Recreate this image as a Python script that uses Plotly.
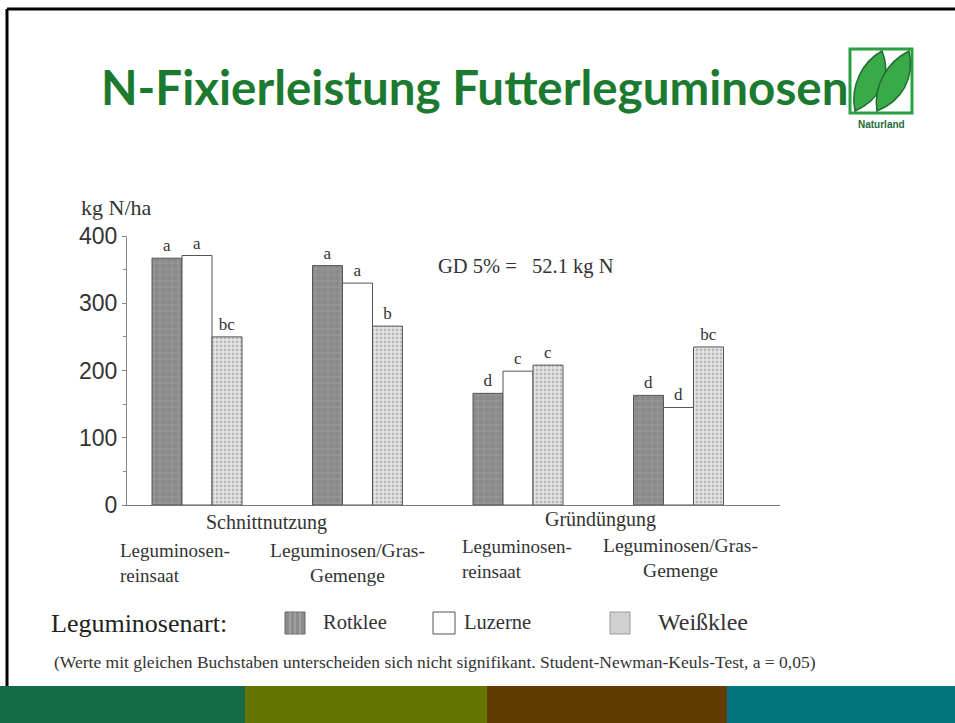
import plotly.graph_objects as go

W, H = 955, 723

# ---------------- data ----------------
groups = ["Schnittnutzung – Leguminosen-reinsaat", "Schnittnutzung – Leguminosen/Gras-Gemenge",
          "Gründüngung – Leguminosen-reinsaat", "Gründüngung – Leguminosen/Gras-Gemenge"]
series_names = ["Rotklee", "Luzerne", "Weißklee"]
rotklee = [367, 356, 166, 163]
luzerne = [371, 330, 199, 145]
weissklee = [250, 266, 208, 235]
rotklee_letters = ["a", "a", "d", "d"]
luzerne_letters = ["a", "a", "c", "d"]
weissklee_letters = ["bc", "b", "c", "bc"]
y_ticks = [0, 100, 200, 300, 400]

SERIF = "Liberation Serif"
SANS = "Liberation Sans"


def px(x):
    return x / W


def py(y):
    return 1 - y / H


def P(x, y):
    return f"{px(x):.5f},{py(y):.5f}"


xpos = list(range(len(groups)))

ROT = dict(color="#8e8e8e", line=dict(color="#555555", width=1),
           pattern=dict(shape="+", fgcolor="#c4c4c4", bgcolor="#8a8a8a", size=6, solidity=0.15))
LUZ = dict(color="white", line=dict(color="#555555", width=1))
WEI = dict(color="#dedede", line=dict(color="#555555", width=1),
           pattern=dict(shape=".", fgcolor="#8c8c8c", bgcolor="#e6e6e6", size=4, solidity=0.4))

fig = go.Figure()
common_text = dict(textposition="outside", cliponaxis=False, showlegend=False,
                   textfont=dict(family=SERIF, size=17, color="#333333"))
fig.add_bar(x=xpos, y=rotklee, name=series_names[0], text=rotklee_letters, marker=ROT, **common_text)
fig.add_bar(x=xpos, y=luzerne, name=series_names[1], text=luzerne_letters, marker=LUZ, **common_text)
fig.add_bar(x=xpos, y=weissklee, name=series_names[2], text=weissklee_letters, marker=WEI, **common_text)

x0, x1 = 127, 780
y0, y1 = 505, 236
centers_px = [197, 357.5, 518, 678.5]
step = centers_px[1] - centers_px[0]
xr = [(x0 - centers_px[0]) / step, (x1 - centers_px[0]) / step]

fig.update_layout(
    width=W, height=H,
    margin=dict(l=0, r=0, t=0, b=0, pad=0, autoexpand=False),
    paper_bgcolor="white", plot_bgcolor="white",
    barmode="group", bargap=1 - 3 * 30 / step, bargroupgap=0,
    font=dict(family=SERIF, color="#333333"),
    showlegend=False,
    xaxis=dict(domain=[px(x0), px(x1)], range=xr, showgrid=False, zeroline=False, automargin=False,
               showline=True, linecolor="#777777", linewidth=1,
               showticklabels=False, ticks=""),
    yaxis=dict(domain=[py(y0), py(y1)], range=[0, 400], showgrid=False, zeroline=False, automargin=False,
               showline=True, linecolor="#888888", linewidth=1,
               tickvals=y_ticks, ticks="outside", ticklen=4, tickcolor="#888888",
               tickfont=dict(family=SANS, size=23, color="#333333"),
               minor=dict(dtick=50, ticks="outside", ticklen=3, tickcolor="#888888")),
)

ann = []


def text(x, y, s, size, xanchor="center", align="center", family=SERIF, color="#333333", weight=None):
    f = dict(family=family, size=size, color=color)
    if weight:
        f["weight"] = weight
    ann.append(dict(x=px(x), y=py(y), xref="paper", yref="paper", text=s, showarrow=False,
                    xanchor=xanchor, yanchor="middle", align=align, borderpad=0, font=f))


# Title
text(474, 86, "N-Fixierleistung Futterleguminosen", 47.5, family="Lato", color="#1b7a30", weight="bold")

text(80, 208, "kg N/ha", 22, xanchor="left")
text(437, 266, "GD 5% =&nbsp;&nbsp;&nbsp;52.1 kg N", 20.5, xanchor="left")
text(266, 522, "Schnittnutzung", 20)
text(600, 519, "Gründüngung", 20)
text(119, 563, "Leguminosen-<br>reinsaat", 19, xanchor="left", align="left")
text(347, 563, "Leguminosen/Gras-<br>Gemenge", 19.5)
text(461, 559, "Leguminosen-<br>reinsaat", 19, xanchor="left", align="left")
text(680, 558, "Leguminosen/Gras-<br>Gemenge", 19.5)
text(435, 662, "(Werte mit gleichen Buchstaben unterscheiden sich nicht signifikant. "
     "Student-Newman-Keuls-Test, a = 0,05)", 17.5)
text(881, 124, "<b>Naturland</b>", 10, family=SANS, color="#1d6b3a")

# legend (drawn manually)
text(50, 623, "Leguminosenart:", 26, xanchor="left", color="#222222")
legend_items = [(322, series_names[0], 20.5), (463, series_names[1], 20.5), (657, series_names[2], 24)]
for tx, name, fs in legend_items:
    text(tx, 622, name, fs, xanchor="left")

fig.update_layout(annotations=ann)

shapes = []
# slide border
shapes.append(dict(type="line", xref="paper", yref="paper", x0=px(7), y0=py(9), x1=px(955), y1=py(9),
                   line=dict(color="black", width=3)))
shapes.append(dict(type="line", xref="paper", yref="paper", x0=px(7), y0=py(9), x1=px(7), y1=py(687),
                   line=dict(color="black", width=3)))
# bottom colour bands
bands = [(0, 245, "#136b48"), (245, 487, "#657600"), (487, 727, "#613c00"), (727, 955, "#007580")]
for a, b, c in bands:
    shapes.append(dict(type="rect", xref="paper", yref="paper", x0=px(a), x1=px(b),
                       y0=py(723), y1=py(686), fillcolor=c, line=dict(width=0)))
# legend swatches
sw_top, sw_bot = 612, 634
shapes.append(dict(type="rect", xref="paper", yref="paper", x0=px(285), x1=px(305), y0=py(sw_bot), y1=py(sw_top),
                   fillcolor="#8c8c8c", line=dict(color="#666666", width=1)))
for lx in (290, 295, 300):
    shapes.append(dict(type="line", xref="paper", yref="paper", x0=px(lx), x1=px(lx), y0=py(sw_bot), y1=py(sw_top),
                       line=dict(color="#b5b5b5", width=1)))
shapes.append(dict(type="rect", xref="paper", yref="paper", x0=px(433), x1=px(455), y0=py(sw_bot), y1=py(sw_top),
                   fillcolor="white", line=dict(color="#555555", width=1)))
shapes.append(dict(type="rect", xref="paper", yref="paper", x0=px(610), x1=px(630), y0=py(sw_bot), y1=py(sw_top),
                   fillcolor="#d0d0d0", line=dict(color="#999999", width=1)))
# logo box
shapes.append(dict(type="rect", xref="paper", yref="paper", x0=px(850), x1=px(912),
                   y0=py(113), y1=py(49), fillcolor="white", line=dict(color="#2aa040", width=3)))
leaf1 = f"M {P(855,111)} C {P(850,86)} {P(862,62)} {P(882,51)} C {P(892,76)} {P(880,100)} {P(855,111)} Z"
leaf2 = f"M {P(877,111)} C {P(873,86)} {P(887,62)} {P(909,51)} C {P(915,78)} {P(902,101)} {P(877,111)} Z"
for lf in (leaf1, leaf2):
    shapes.append(dict(type="path", xref="paper", yref="paper", path=lf,
                       fillcolor="#3aaa48", line=dict(color="#1d6b30", width=1.5)))
fig.update_layout(shapes=shapes)

fig.write_html(
    "out.html",
    config={"displayModeBar": False},
    post_script=(
        "document.documentElement.style.overflow='hidden';"
        "document.body.style.margin='0';document.body.style.overflow='hidden';"
        "var gd=document.getElementById('{plot_id}');"
        "gd.style.position='fixed';gd.style.top='0px';gd.style.left='0px';"
    ),
)
